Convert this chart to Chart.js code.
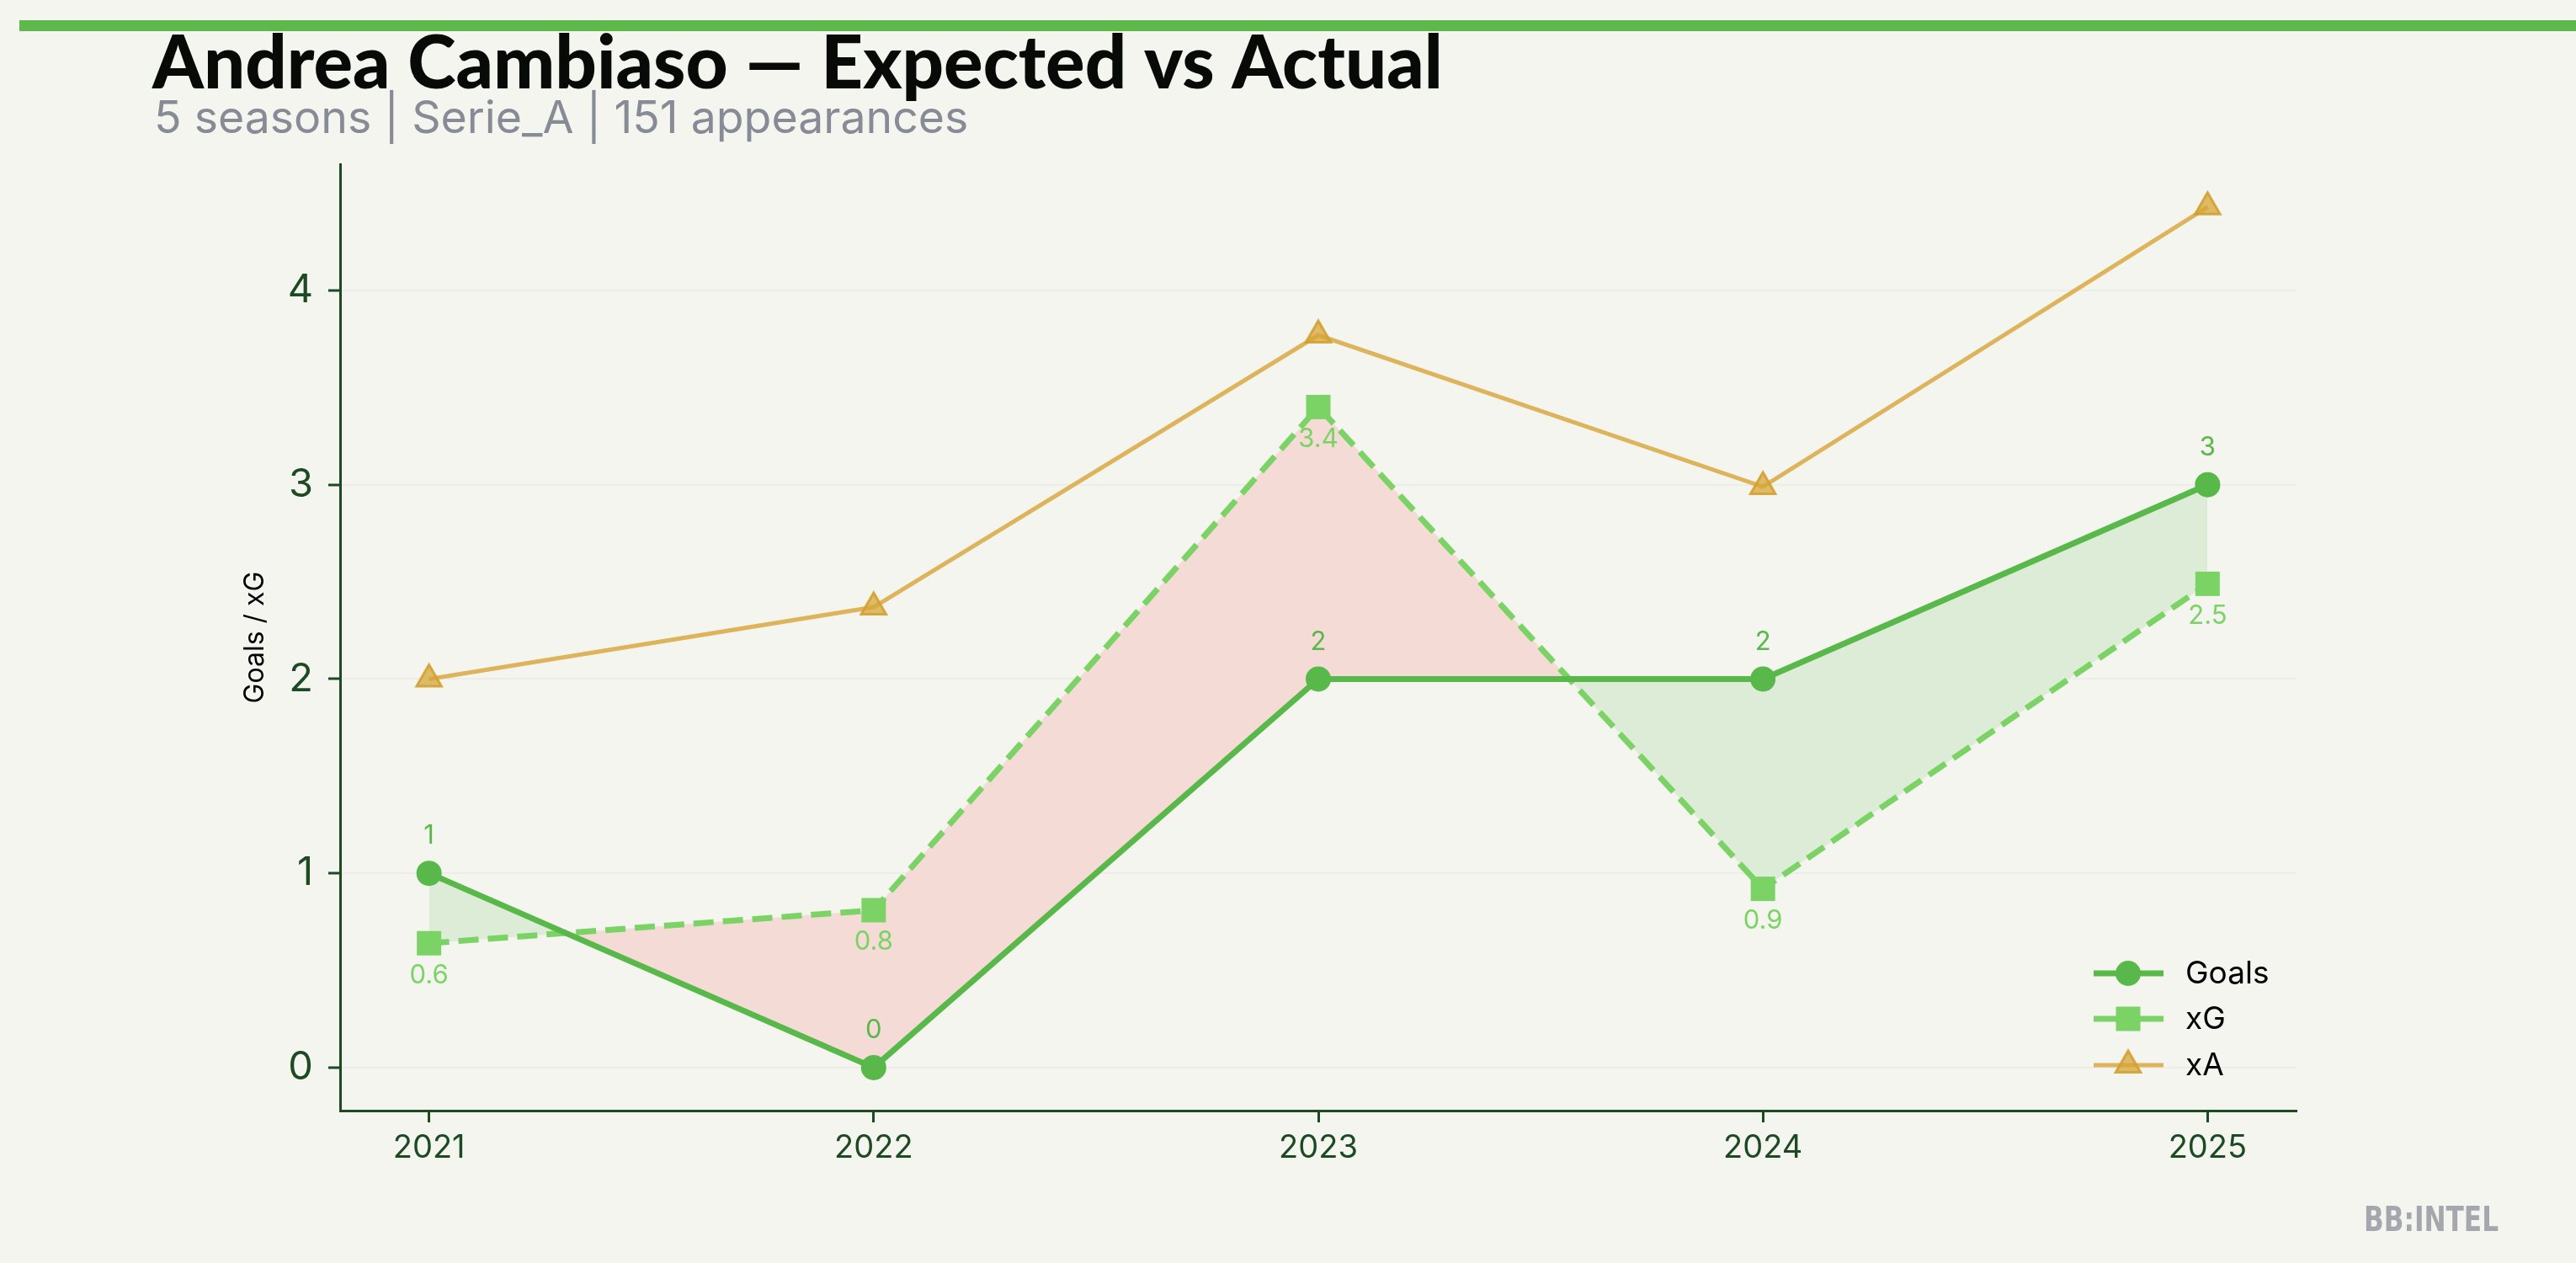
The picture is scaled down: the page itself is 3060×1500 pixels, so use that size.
<!DOCTYPE html>
<html>
<head>
<meta charset="utf-8">
<script src="https://cdn.jsdelivr.net/npm/chart.js@4.4.1/dist/chart.umd.min.js"></script>
<style>
html, body { margin: 0; padding: 0; background: #f4f5ef; }
canvas { display: block; }
</style>
</head>
<body>
<canvas id="myChart" width="3060" height="1500"></canvas>
<script>
// data
var seasons = [2021, 2022, 2023, 2024, 2025];
var goals = [1, 0, 2, 2, 3];
var xg = [0.64, 0.81, 3.40, 0.92, 2.49];
var xa = [2.00, 2.37, 3.77, 2.99, 4.43];
var yTicks = [0, 1, 2, 3, 4];

var titleText = 'Andrea Cambiaso \u2014 Expected vs Actual';
var subtitleText = '5 seasons | Serie_A | 151 appearances';
var yAxisTitle = 'Goals / xG';
var brandText = 'BB:INTEL';

var dark = '#1d4a22';
var goalsColor = '#58b849';
var xgColor = '#7bd366';
var xaColor = '#ddb45c';

function points(values) {
    return seasons.map(function(s, i) { return { x: s, y: values[i] }; });
}

function fitFont(ctx, text, weight, size, family, target) {
    ctx.font = weight + ' ' + size + 'px ' + family;
    var w = ctx.measureText(text).width;
    var s = size * target / w;
    s = Math.max(size * 0.85, Math.min(size * 1.15, s));
    return weight + ' ' + s.toFixed(1) + 'px ' + family;
}

var decorPlugin = {
    id: 'decor',
    beforeDraw: function(chart) {
        var ctx = chart.ctx;
        ctx.save();
        ctx.fillStyle = '#f4f5ef';
        ctx.fillRect(0, 0, chart.width, chart.height);
        // top bar
        ctx.fillStyle = '#5cb94a';
        ctx.fillRect(23, 24, chart.width - 23, 13);
        // title
        ctx.textBaseline = 'alphabetic';
        ctx.textAlign = 'left';
        ctx.fillStyle = '#080a08';
        ctx.font = fitFont(ctx, titleText, '900', 82, 'Lato', 1532);
        ctx.fillText(titleText, 181, 105);
        ctx.fillStyle = '#868b95';
        ctx.font = fitFont(ctx, subtitleText, '400', 56, 'Inter', 968);
        ctx.fillText(subtitleText, 183, 158);
        ctx.restore();
    },
    afterDraw: function(chart) {
        var ctx = chart.ctx;
        var area = chart.chartArea;
        ctx.save();
        // y axis title
        ctx.translate(303, (area.top + area.bottom) / 2);
        ctx.rotate(-Math.PI / 2);
        ctx.textAlign = 'center';
        ctx.textBaseline = 'middle';
        ctx.fillStyle = '#000000';
        ctx.font = '32px Inter';
        ctx.fillText(yAxisTitle, 0, 0);
        ctx.restore();

        // legend
        ctx.save();
        var rowY = [1156, 1210, 1265];
        chart.data.datasets.forEach(function(ds, i) {
            var y = rowY[i];
            ctx.strokeStyle = ds.borderColor;
            ctx.lineWidth = ds.borderWidth;
            ctx.beginPath();
            ctx.moveTo(2487, y);
            ctx.lineTo(2570, y);
            ctx.stroke();
            ctx.fillStyle = ds.pointBackgroundColor;
            ctx.strokeStyle = ds.pointBorderColor;
            ctx.lineWidth = ds.pointBorderWidth;
            Chart.helpers.drawPoint(ctx, {
                pointStyle: ds.pointStyle,
                radius: ds.pointRadius,
                borderWidth: ds.pointBorderWidth
            }, 2528, y);
            ctx.fillStyle = '#000000';
            ctx.font = '37px Inter';
            ctx.textAlign = 'left';
            ctx.textBaseline = 'middle';
            ctx.fillText(ds.label, 2596, y + 1);
        });
        // brand
        ctx.fillStyle = '#a4a8ae';
        ctx.font = 'bold 40px "DejaVu Sans Condensed"';
        ctx.textBaseline = 'alphabetic';
        ctx.fillText(brandText, 2808, 1462, 160);
        ctx.restore();
    },
    afterDatasetsDraw: function(chart) {
        var ctx = chart.ctx;
        ctx.save();
        ctx.textAlign = 'center';
        ctx.textBaseline = 'middle';
        ctx.font = '31px Inter';
        chart.getDatasetMeta(0).data.forEach(function(pt, i) {
            ctx.fillStyle = goalsColor;
            ctx.fillText(String(goals[i]), pt.x, pt.y - 44);
        });
        chart.getDatasetMeta(1).data.forEach(function(pt, i) {
            ctx.fillStyle = xgColor;
            ctx.fillText(xg[i].toFixed(1), pt.x, pt.y + 38);
        });
        ctx.restore();
    }
};

var ctx = document.getElementById('myChart');
var myChart = new Chart(ctx, {
    type: 'line',
    data: {
        datasets: [
            {
                label: 'Goals',
                data: points(goals),
                borderColor: goalsColor,
                borderWidth: 7,
                pointStyle: 'circle',
                pointRadius: 15,
                pointBackgroundColor: goalsColor,
                pointBorderColor: goalsColor,
                pointBorderWidth: 0,
                fill: { target: 1, above: '#dcecd6', below: '#f5dbd6' },
                tension: 0
            },
            {
                label: 'xG',
                data: points(xg),
                borderColor: xgColor,
                borderWidth: 7,
                borderDash: [24, 11],
                pointStyle: 'rect',
                pointRadius: 20.5,
                pointBackgroundColor: xgColor,
                pointBorderColor: xgColor,
                pointBorderWidth: 0,
                fill: false,
                tension: 0
            },
            {
                label: 'xA',
                data: points(xa),
                borderColor: xaColor,
                borderWidth: 5,
                pointStyle: 'triangle',
                pointRadius: 17,
                pointBackgroundColor: 'rgba(214,165,55,0.75)',
                pointBorderColor: 'rgba(212,160,48,0.9)',
                pointBorderWidth: 3,
                fill: false,
                tension: 0
            }
        ]
    },
    options: {
        responsive: false,
        animation: false,
        devicePixelRatio: 1,
        layout: { padding: { top: 195, right: 332, left: 0, bottom: 0 } },
        plugins: {
            legend: { display: false },
            title: { display: false },
            tooltip: { enabled: false },
            filler: { propagate: false, drawTime: 'beforeDatasetsDraw' }
        },
        scales: {
            x: {
                type: 'linear',
                min: 2020.8,
                max: 2025.2,
                afterBuildTicks: function(s) { s.ticks = seasons.map(function(v) { return { value: v }; }); },
                afterFit: function(s) { s.height = 181; },
                ticks: {
                    callback: function(v) { return String(v); },
                    color: dark,
                    font: { family: 'Inter', size: 38 },
                    padding: 8,
                    maxRotation: 0
                },
                grid: { drawOnChartArea: false, tickColor: dark, tickLength: 14, tickWidth: 3 },
                border: { color: dark, width: 3 }
            },
            y: {
                min: -0.2215,
                max: 4.65,
                afterBuildTicks: function(s) { s.ticks = yTicks.map(function(v) { return { value: v }; }); },
                afterFit: function(s) { s.width = 404; },
                ticks: {
                    color: dark,
                    font: { family: 'Inter', size: 47 },
                    padding: 18
                },
                grid: { color: 'rgba(0,0,0,0.03)', lineWidth: 2, tickColor: dark, tickLength: 14, tickWidth: 3 },
                border: { color: dark, width: 3 }
            }
        }
    },
    plugins: [decorPlugin]
});
</script>
</body>
</html>
